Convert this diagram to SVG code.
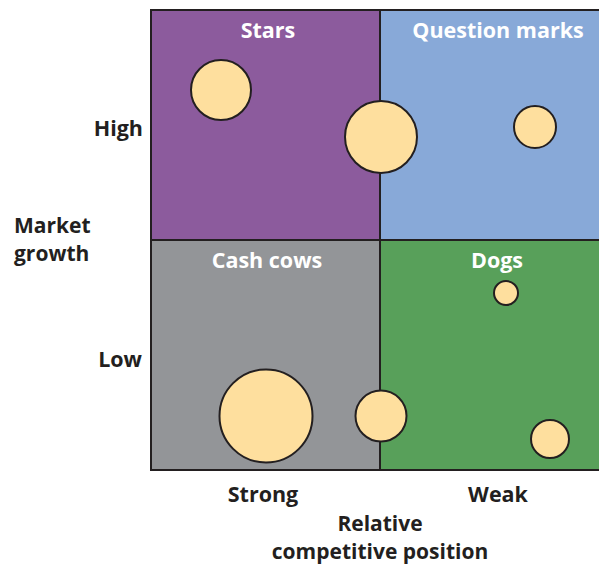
<svg xmlns="http://www.w3.org/2000/svg" width="599" height="567" viewBox="0 0 599 567">
<style>
.q{stroke:#231f20;stroke-width:2}
.b{fill:#fedf9e;stroke:#231f20;stroke-width:2}
.t{font-family:"Open Sans","Liberation Sans",sans-serif;font-weight:bold;font-size:21.5px}
.s{font-size:21px}
.w{fill:#ffffff;text-anchor:middle}
.k{fill:#231f20}
.m{text-anchor:middle}
.e{text-anchor:end}
</style>
<rect width="599" height="567" fill="#ffffff"/>
<g id="stars"><rect class="q" x="151" y="10" width="229" height="230" fill="#8c5b9d"/><text class="t w" x="268" y="38">Stars</text></g>
<g id="question-marks"><rect class="q" x="380" y="10" width="222" height="230" fill="#88a9d8"/><text class="t w" x="498" y="38">Question marks</text></g>
<g id="cash-cows"><rect class="q" x="151" y="240" width="229" height="230" fill="#939598"/><text class="t w" x="267" y="268">Cash cows</text></g>
<g id="dogs"><rect class="q" x="380" y="240" width="222" height="230" fill="#58a05a"/><text class="t w" x="497" y="268">Dogs</text></g>
<g id="bubbles">
<circle class="b" cx="221" cy="90" r="30"/>
<circle class="b" cx="381" cy="137" r="36"/>
<circle class="b" cx="535" cy="127" r="21"/>
<circle class="b" cx="506" cy="293" r="12"/>
<circle class="b" cx="266" cy="416" r="46.5"/>
<circle class="b" cx="381" cy="416" r="25.5"/>
<circle class="b" cx="550" cy="439" r="19"/>
</g>
<g id="axis-labels">
<text class="t k e" x="143" y="136">High</text>
<text class="t k e" x="142" y="367">Low</text>
<text class="t k s" x="14" y="233">Market</text>
<text class="t k s" x="14" y="261">growth</text>
<text class="t k m s" x="380" y="531">Relative</text>
<text class="t k m s" x="380" y="559">competitive position</text>
<text class="t k m" x="263" y="502">Strong</text>
<text class="t k m" x="498" y="502">Weak</text>
</g>
</svg>
